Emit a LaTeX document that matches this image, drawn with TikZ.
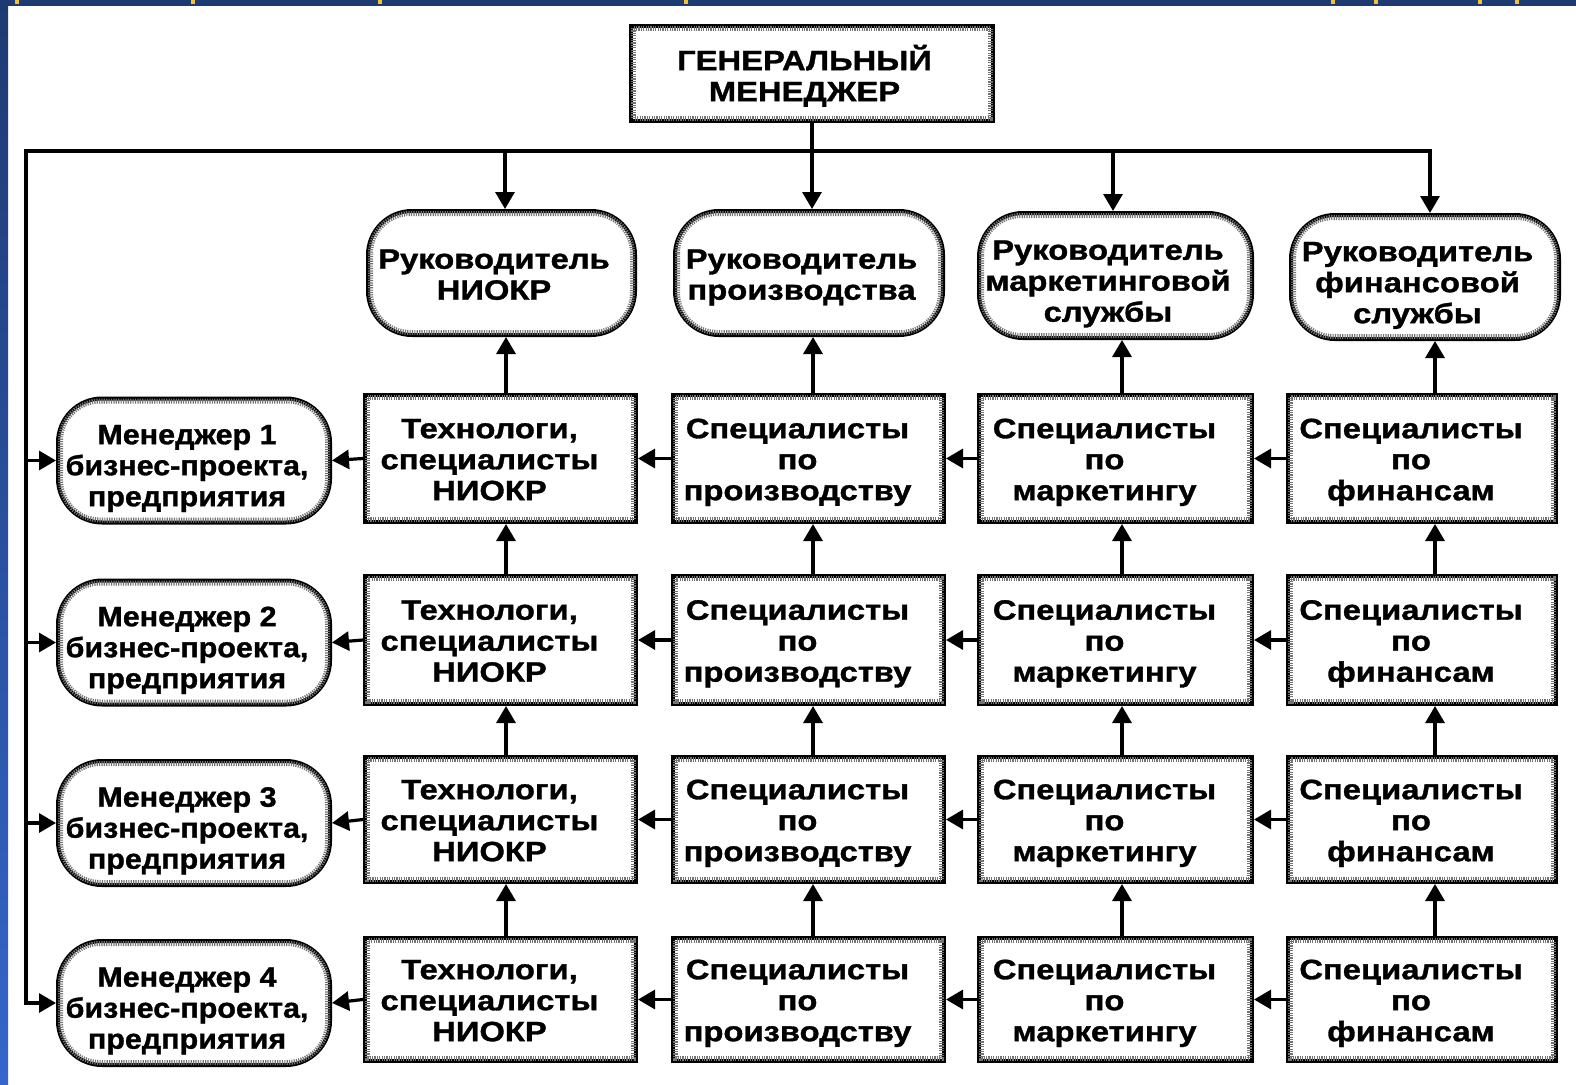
\documentclass[tikz,border=0pt]{standalone}
\usepackage{fontspec}
\usepackage{graphicx}
\setmainfont{Liberation Sans}[FakeStretch=1.17,FakeBold=1.2]
\usetikzlibrary{arrows.meta}

\definecolor{navy}{HTML}{1E3A72}
\definecolor{slideblue}{HTML}{3566CC}
\definecolor{markyellow}{HTML}{F2C230}

\tikzset{
  lbl/.style={font=\fontsize{28}{31}\selectfont\bfseries, inner sep=0pt},
  unit/.style={lbl, rectangle, draw=black, fill=white, line width=4pt},
  chief/.style={unit, rounded corners=44pt},
  band/.style={draw=black!55, line width=5pt, dash pattern=on 1.2pt off 1.2pt},
  link/.style={line width=3.2pt, line cap=rect},
  arr/.style={line width=3.2pt, -{Triangle[length=17pt,width=19pt]}},
}

% centred lines of a label: #1 extra height of the first line, #2 extra room on the right
\newcommand\tx[3]{%
  \begin{tabular}{@{}c@{\hspace{#2}}}\rule{0pt}{\dimexpr21.7pt+#1\relax}#3\end{tabular}}

% grainy inner band just inside a node's black frame
\newcommand\grainband[2]{%
  \draw[band, rounded corners=#2]
    ([shift={(4.5pt,-4.5pt)}]#1.north west) rectangle ([shift={(-4.5pt,4.5pt)}]#1.south east);}

\begin{document}
\begin{tikzpicture}[x=1pt,y=-1pt]
\useasboundingbox (0,0) rectangle (1576,1084);
\fill[white] (0,0) rectangle (1576,1084);

% slide frame
\shade[top color=navy, bottom color=slideblue] (0,0) rectangle (8,1084);
\fill[navy] (0,0) rectangle (1576,6);
\foreach \mx in {17,193,380,686,1333,1376,1480,1517}
  \fill[markyellow] (\mx-2,0) rectangle (\mx+2,4);

% general manager
\node[unit, minimum width=362pt, minimum height=95pt] (gm) at (812,73)
  {\tx{13pt}{15pt}{ГЕНЕРАЛЬНЫЙ\\МЕНЕДЖЕР}};
\grainband{gm}{0pt}

% heads of the functional services
\node[chief, minimum width=267pt, minimum height=124pt] (h1) at (501.5,273)
  {\tx{10pt}{15pt}{Руководитель\\НИОКР}};
\node[chief, minimum width=268pt, minimum height=124pt] (h2) at (809,273)
  {\tx{10pt}{15pt}{Руководитель\\производства}};
\node[chief, minimum width=273pt, minimum height=125pt] (h3) at (1115.5,275.5)
  {\tx{18pt}{15pt}{Руководитель\\маркетинговой\\службы}};
\node[chief, minimum width=268pt, minimum height=124pt] (h4) at (1425,277)
  {\tx{18pt}{15pt}{Руководитель\\финансовой\\службы}};
\foreach \c in {1,...,4} {\grainband{h\c}{40pt}}

% project teams: one row per business project
\foreach \r/\y/\h in {1/458.5/127, 2/640/128, 3/819.5/125, 4/999.5/123} {
  \foreach \c/\x/\w/\txt in {
      1/500.5/271/{Технологи,\\специалисты\\НИОКР},
      2/808.5/271/{Специалисты\\по\\производству},
      3/1115.5/273/{Специалисты\\по\\маркетингу},
      4/1422/268/{Специалисты\\по\\финансам}} {
    \node[unit, minimum width=\w pt, minimum height=\h pt] (r\r\c) at (\x,\y)
      {\tx{9pt}{22pt}{\txt}};
    \grainband{r\r\c}{0pt}
  }
}

% project managers
\foreach \r/\y in {1/460.5, 2/642.5, 3/823, 4/1003} {
  \node[chief, minimum width=272pt, minimum height=124pt] (m\r) at (194,\y)
    {\scalebox{0.93}[1]{\tx{17pt}{15pt}{Менеджер \r\\бизнес-проекта,\\предприятия}}};
  \grainband{m\r}{40pt}
}

% command lines from the general manager
\coordinate (busL) at (26,151);
\coordinate (busR) at (1430,151);
\coordinate (d1) at (505,151);
\coordinate (d3) at (1113,151);
\draw[link] (gm.south) -- (gm.south |- busL);
\draw[link] (busL |- m4.west) -- (busL) -- (busR);
\draw[arr] (busR) -- (busR |- h4.north);
\draw[arr] (d1) -- (d1 |- h1.north);
\draw[arr] (gm.south |- busL) -- (gm.south |- h2.north);
\draw[arr] (d3) -- (d3 |- h3.north);
\foreach \r in {1,...,4} {\draw[arr] (busL |- m\r.west) -- (m\r.west);}

% reporting lines inside each row
\foreach \r in {1,...,4} {
  \draw[arr] (r\r4.west) -- (r\r3.east);
  \draw[arr] (r\r3.west) -- (r\r2.east);
  \draw[arr] (r\r2.west) -- (r\r1.east);
  \draw[arr] (r\r1.west) -- (m\r.east);
}

% reporting lines up each column
\coordinate (u1) at (506,0);
\coordinate (u2) at (813,0);
\coordinate (u3) at (1122,0);
\coordinate (u4) at (1435,0);
\foreach \c in {1,...,4} {
  \draw[arr] (u\c |- r1\c.north) -- (u\c |- h\c.south);
  \draw[arr] (u\c |- r2\c.north) -- (u\c |- r1\c.south);
  \draw[arr] (u\c |- r3\c.north) -- (u\c |- r2\c.south);
  \draw[arr] (u\c |- r4\c.north) -- (u\c |- r3\c.south);
}
\end{tikzpicture}
\end{document}
